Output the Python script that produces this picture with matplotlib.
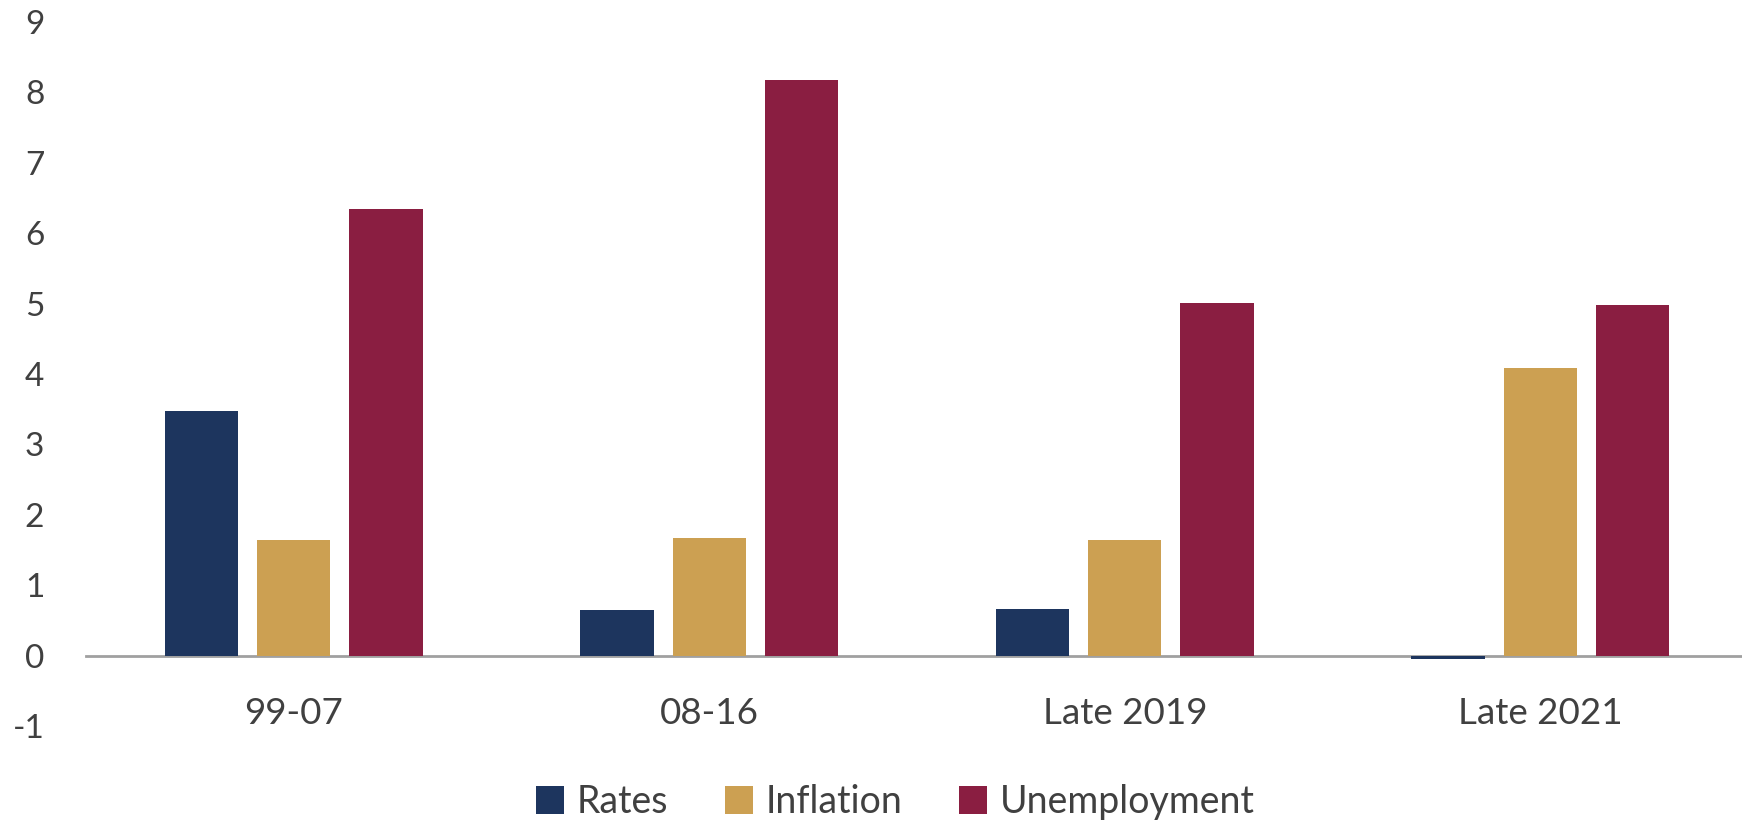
import matplotlib.pyplot as plt
import numpy as np

categories = ["99-07", "08-16", "Late 2019", "Late 2021"]
rates = [3.47, 0.65, 0.66, -0.05]
inflation = [1.64, 1.67, 1.64, 4.09]
unemployment = [6.35, 8.18, 5.01, 4.98]
series_names = ["Rates", "Inflation", "Unemployment"]
colors = ["#1d355e", "#cca052", "#8a1e41"]

plt.rcParams["font.family"] = ["Lato", "DejaVu Sans"]
plt.rcParams["axes.unicode_minus"] = False
text_color = "#404040"

fig = plt.figure(figsize=(17.42, 8.25), dpi=100)
ax = fig.add_axes([86 / 1742, 99 / 825, 1662 / 1742, 704 / 825])

x = np.arange(len(categories))
width = 0.176
step = 0.222
for i, (vals, name, c) in enumerate(zip([rates, inflation, unemployment], series_names, colors)):
    ax.bar(x + (i - 1) * step, vals, width, color=c, label=name)

ax.set_xlim(-0.5, 3.5)
ax.set_ylim(-1, 9)
ax.set_yticks(np.arange(-1, 10, 1))
ax.set_xticks(x)
ax.set_xticklabels(categories)

for s in ["top", "right", "left"]:
    ax.spines[s].set_visible(False)
ax.spines["bottom"].set_position(("data", 0))
ax.spines["bottom"].set_color("#a0a0a0")
ax.spines["bottom"].set_linewidth(2)
ax.spines["bottom"].set_zorder(0)

ax.tick_params(axis="y", length=0, pad=30, labelsize=24, labelcolor=text_color)
ax.tick_params(axis="x", length=0, pad=30, labelsize=26.5, labelcolor=text_color)

fig.legend(loc="center", bbox_to_anchor=(0.514, 0.028), ncol=3, frameon=False,
           fontsize=27, labelcolor=text_color, handlelength=0.75, handleheight=0.75,
           handletextpad=0.35, columnspacing=1.5)

fig.savefig("out.png", dpi=100)
